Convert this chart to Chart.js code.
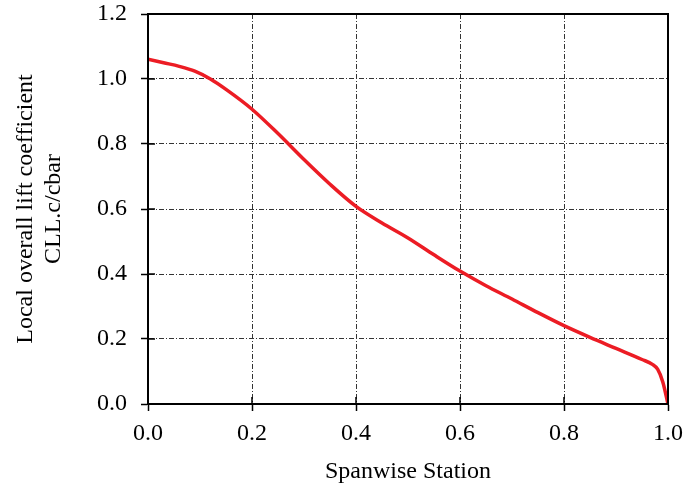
<!DOCTYPE html>
<html>
<head>
<meta charset="utf-8">
<script src="https://cdn.jsdelivr.net/npm/chart.js@4.4.1/dist/chart.umd.min.js"></script>
<style>
  body { margin: 0; background: #fff; }
</style>
</head>
<body>
<canvas id="myChart" width="685" height="486"></canvas>
<script>
// spanwise station (x) and local lift coefficient CLL.c/cbar (y)
const stations = [0, 0.03, 0.06, 0.09, 0.12, 0.15, 0.2, 0.25, 0.3, 0.35, 0.4, 0.45, 0.5,
                  0.55, 0.6, 0.65, 0.7, 0.75, 0.8, 0.85, 0.9, 0.95, 0.97, 0.98, 0.99, 1.0];
const cll = [1.061, 1.050, 1.039, 1.024, 1.000, 0.968, 0.907, 0.832, 0.752, 0.676, 0.608, 0.557, 0.511,
             0.459, 0.409, 0.364, 0.323, 0.281, 0.241, 0.205, 0.171, 0.137, 0.122, 0.107, 0.068, 0.0];

const xTicks = [0, 0.2, 0.4, 0.6, 0.8, 1.0];
const yTicks = [0, 0.2, 0.4, 0.6, 0.8, 1.0, 1.2];

const xTitle = 'Spanwise Station';
const yTitle = ['Local overall lift coefficient', 'CLL.c/cbar'];

const points = stations.map((s, i) => ({ x: s, y: cll[i] }));

const SERIF = "'Liberation Serif', 'DejaVu Serif', serif";
const GRID_DASH = [5, 2, 1, 2];

// frame round the plot area + inner half of the tick marks
const framePlugin = {
  id: 'frame',
  afterDraw(chart) {
    const { ctx, chartArea: a, scales } = chart;
    ctx.save();
    ctx.strokeStyle = '#000';
    ctx.lineWidth = 2;
    ctx.setLineDash([]);
    ctx.strokeRect(a.left, a.top, a.right - a.left, a.bottom - a.top);
    ctx.lineWidth = 1.5;
    ctx.beginPath();
    scales.x.ticks.forEach(t => {
      const px = scales.x.getPixelForValue(t.value);
      ctx.moveTo(px, a.bottom);
      ctx.lineTo(px, a.bottom - 7);
    });
    scales.y.ticks.forEach(t => {
      const py = scales.y.getPixelForValue(t.value);
      ctx.moveTo(a.left, py);
      ctx.lineTo(a.left + 7, py);
    });
    ctx.stroke();
    ctx.restore();
  }
};

const config = {
  type: 'scatter',
  data: {
    datasets: [{
      data: points,
      showLine: true,
      borderColor: '#ec1c24',
      backgroundColor: '#ec1c24',
      borderWidth: 3.5,
      pointRadius: 0,
      cubicInterpolationMode: 'monotone'
    }]
  },
  options: {
    responsive: false,
    animation: false,
    layout: { padding: { top: 14, right: 17, left: 0, bottom: 0 } },
    plugins: {
      legend: { display: false },
      tooltip: { enabled: false }
    },
    scales: {
      x: {
        type: 'linear',
        min: 0,
        max: 1,
        afterFit(scale) {
          scale.height = 82;
          scale.paddingLeft = 0;
          scale.paddingRight = 0;
        },
        afterBuildTicks(scale) { scale.ticks = xTicks.map(v => ({ value: v })); },
        ticks: {
          color: '#000',
          padding: 8,
          font: { family: SERIF, size: 24 },
          callback: v => v.toFixed(1)
        },
        grid: {
          color: '#333',
          lineWidth: 1,
          tickLength: 7,
          tickColor: '#000',
          tickWidth: 1.5,
          tickBorderDash: []
        },
        border: { color: '#000', width: 2, dash: GRID_DASH },
        title: {
          display: true,
          text: xTitle,
          color: '#000',
          font: { family: SERIF, size: 24 },
          padding: { top: 0, bottom: 0 }
        }
      },
      y: {
        type: 'linear',
        min: 0,
        max: 1.2,
        afterFit(scale) {
          scale.width = 148;
          scale.paddingTop = 0;
          scale.paddingBottom = 0;
        },
        afterBuildTicks(scale) { scale.ticks = yTicks.map(v => ({ value: v })); },
        ticks: {
          color: '#000',
          padding: 14,
          font: { family: SERIF, size: 24, lineHeight: 1.0 },
          callback: v => v.toFixed(1)
        },
        grid: {
          color: '#333',
          lineWidth: 1,
          tickLength: 7,
          tickColor: '#000',
          tickWidth: 1.5,
          tickBorderDash: []
        },
        border: { color: '#000', width: 2, dash: GRID_DASH },
        title: {
          display: true,
          text: yTitle,
          color: '#000',
          font: { family: SERIF, size: 24 },
          padding: { top: 11, bottom: 0 }
        }
      }
    }
  },
  plugins: [framePlugin]
};

const myChart = new Chart(document.getElementById('myChart'), config);
</script>
</body>
</html>
